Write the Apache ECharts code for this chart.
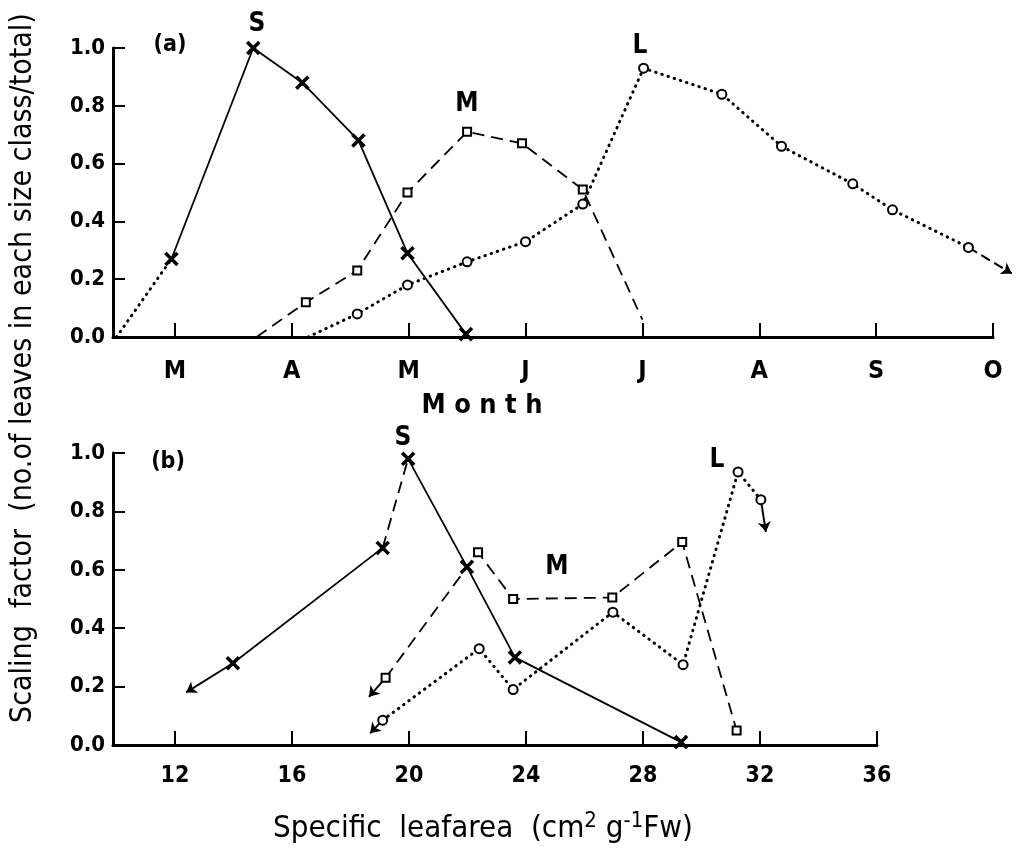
<!DOCTYPE html>
<html>
<head>
<meta charset="utf-8">
<script src="https://cdn.jsdelivr.net/npm/echarts@6/dist/echarts.min.js"></script>
<style>
html, body { margin: 0; padding: 0; background: #fff; }
#main { width: 1025px; height: 851px; }
</style>
</head>
<body>
<div id="main"></div>
<script>
// ---- data ----
// (a) x = month number (3 = March ... 10 = October)
var monthTicks = [3, 4, 5, 6, 7, 8, 9, 10];
var monthLabels = ['M', 'A', 'M', 'J', 'J', 'A', 'S', 'O'];
var slaTicks = [12, 16, 20, 24, 28, 32, 36];

var sMonthLead = [[2.50, 0], [2.97, 0.27]];
var sMonth = [[2.97, 0.27], [3.67, 1.0], [4.09, 0.88], [4.57, 0.68], [4.99, 0.29], [5.49, 0.01]];
var mMonth = [[3.70, 0], [4.12, 0.12], [4.56, 0.23], [4.99, 0.50], [5.50, 0.71], [5.97, 0.67], [6.49, 0.51], [7.0, 0.06]];
var lMonth = [[4.14, 0], [4.56, 0.08], [4.99, 0.18], [5.50, 0.26], [6.0, 0.33], [6.49, 0.46], [7.01, 0.93], [7.68, 0.84], [8.19, 0.66], [8.80, 0.53], [9.14, 0.44], [9.79, 0.31]];
var lMonthArrow = [[9.79, 0.31], [10.16, 0.22]];

// (b) x = specific leaf area
var sSla1 = [[13.98, 0.28], [19.1, 0.675]];
var sSla2 = [[19.1, 0.675], [19.97, 0.98]];
var sSla3 = [[19.97, 0.98], [21.98, 0.61], [23.62, 0.30], [29.3, 0.01]];
var sSlaArrow = [[13.98, 0.28], [12.38, 0.18]];
var mSla = [[19.2, 0.23], [22.36, 0.66], [23.56, 0.50], [26.95, 0.505], [29.34, 0.695], [31.2, 0.05]];
var mSlaArrow = [[19.2, 0.23], [18.63, 0.165]];
var lSla = [[19.1, 0.085], [22.4, 0.33], [23.56, 0.19], [26.97, 0.455], [29.37, 0.275], [31.25, 0.935], [32.03, 0.84]];
var lSlaArrow1 = [[19.1, 0.085], [18.67, 0.04]];
var lSlaArrow2 = [[32.03, 0.84], [32.2, 0.73]];

var FONT = "'DejaVu Sans Condensed', 'Liberation Sans Narrow', 'DejaVu Sans', sans-serif";
var crossSymbol = 'path://M0,1 L1,0 L5,4 L9,0 L10,1 L6,5 L10,9 L9,10 L5,6 L1,10 L0,9 L4,5 Z';

var chart = echarts.init(document.getElementById('main'));

function xAxisBase(grid, min, max, ticks, fmt, size, margin) {
    return {
        gridIndex: grid,
        type: 'value',
        min: min,
        max: max,
        axisLine: { onZero: false, lineStyle: { color: '#000', width: 3 } },
        axisTick: { inside: true, length: 14, customValues: ticks, lineStyle: { color: '#000', width: 2 } },
        axisLabel: {
            customValues: ticks,
            formatter: fmt,
            margin: margin,
            color: '#000',
            fontFamily: FONT,
            fontWeight: 'bold',
            fontSize: size
        },
        splitLine: { show: false }
    };
}

function yAxisBase(grid) {
    return {
        gridIndex: grid,
        type: 'value',
        min: 0,
        max: 1,
        interval: 0.2,
        axisLine: { show: true, onZero: false, lineStyle: { color: '#000', width: 3 } },
        axisTick: { show: true, inside: true, length: 12, lineStyle: { color: '#000', width: 2 } },
        axisLabel: {
            margin: 8,
            color: '#000',
            fontFamily: FONT,
            fontWeight: 'bold',
            fontSize: 22,
            formatter: function (v) { return v.toFixed(1); }
        },
        splitLine: { show: false }
    };
}

function lineSeries(data, xi, dash, symbol, size) {
    var ls = { color: '#000', width: 1.8, type: 'solid' };
    if (dash === 'dash') { ls.type = [12, 7]; ls.width = 1.8; }
    if (dash === 'dot') { ls.type = [0.5, 6]; ls.width = 3; ls.cap = 'round'; }
    return {
        type: 'line',
        xAxisIndex: xi,
        yAxisIndex: xi,
        data: data,
        symbol: symbol || 'none',
        symbolSize: size || 8,
        showSymbol: !!symbol,
        animation: false,
        clip: false,
        itemStyle: { color: '#000', borderColor: '#000', borderWidth: 1.8 },
        lineStyle: ls,
        emphasis: { disabled: true },
        z: 3
    };
}

function arrowSeries(coords, xi, dash) {
    return {
        type: 'lines',
        coordinateSystem: 'cartesian2d',
        xAxisIndex: xi,
        yAxisIndex: xi,
        symbol: ['none', 'arrow'],
        symbolSize: 10,
        clip: false,
        animation: false,
        lineStyle: { color: '#000', width: 2, opacity: 1, type: dash ? [10, 5] : 'solid' },
        data: [{ coords: coords }]
    };
}

// first / last point of some curves carry no marker
function noEnds(data, first, last) {
    return data.map(function (d, i) {
        if ((first && i === 0) || (last && i === data.length - 1)) {
            return { value: d, symbol: 'none' };
        }
        return d;
    });
}

function label(x, y, text, font) {
    return {
        type: 'text', x: x, y: y,
        style: { text: text, font: font, fill: '#000', textAlign: 'center', textVerticalAlign: 'middle' }
    };
}

var letterFont = 'bold 26px ' + FONT;
var panelFont = 'bold 23px ' + FONT;

var option = {
    backgroundColor: '#fff',
    animation: false,
    grid: [
        { left: 113, top: 48, width: 880, height: 289 },
        { left: 113, top: 453, width: 764, height: 292 }
    ],
    xAxis: [
        xAxisBase(0, 2.47, 10, monthTicks, function (v) {
            return monthLabels[monthTicks.indexOf(v)];
        }, 25, 22),
        xAxisBase(1, 9.88, 36, slaTicks, function (v) { return String(v); }, 23, 20)
    ],
    yAxis: [yAxisBase(0), yAxisBase(1)],
    series: [
        // (a)
        lineSeries(sMonthLead, 0, 'dot'),
        lineSeries(sMonth, 0, 'solid', crossSymbol, 12),
        lineSeries(noEnds(mMonth, true, true), 0, 'dash', 'emptyRect', 8),
        lineSeries(noEnds(lMonth, true, false), 0, 'dot', 'emptyCircle', 9),
        arrowSeries(lMonthArrow, 0, true),
        // (b)
        lineSeries(sSla1, 1, 'solid', crossSymbol, 12),
        lineSeries(sSla2, 1, 'dash'),
        lineSeries(sSla3, 1, 'solid', crossSymbol, 12),
        arrowSeries(sSlaArrow, 1, false),
        lineSeries(mSla, 1, 'dash', 'emptyRect', 8),
        arrowSeries(mSlaArrow, 1, false),
        lineSeries(lSla, 1, 'dot', 'emptyCircle', 9),
        arrowSeries(lSlaArrow1, 1, false),
        arrowSeries(lSlaArrow2, 1, false)
    ],
    graphic: [
        label(170, 45, '(a)', panelFont),
        label(257, 24, 'S', letterFont),
        label(467, 104, 'M', letterFont),
        label(640, 46, 'L', letterFont),
        label(168, 462, '(b)', panelFont),
        label(403, 438, 'S', letterFont),
        label(557, 567, 'M', letterFont),
        label(717, 460, 'L', letterFont),
        label(482, 406, 'M o n t h', 'bold 27px ' + FONT),
        {
            type: 'text', x: 483, y: 829,
            style: {
                text: 'Specific  leafarea  (cm{sup|2} g{sup|-1}Fw)',
                font: '31px ' + FONT,
                fill: '#000',
                textAlign: 'center',
                textVerticalAlign: 'middle',
                lineHeight: 38,
                rich: {
                    sup: { font: '22px ' + FONT, fill: '#000', verticalAlign: 'top', lineHeight: 22 }
                }
            }
        },
        {
            type: 'text', x: 23, y: 368, rotation: Math.PI / 2,
            style: { text: 'Scaling  factor  (no.of leaves in each size class/total)', font: '30px ' + FONT, fill: '#000', textAlign: 'center', textVerticalAlign: 'middle' }
        }
    ]
};

chart.setOption(option);
</script>
</body>
</html>
